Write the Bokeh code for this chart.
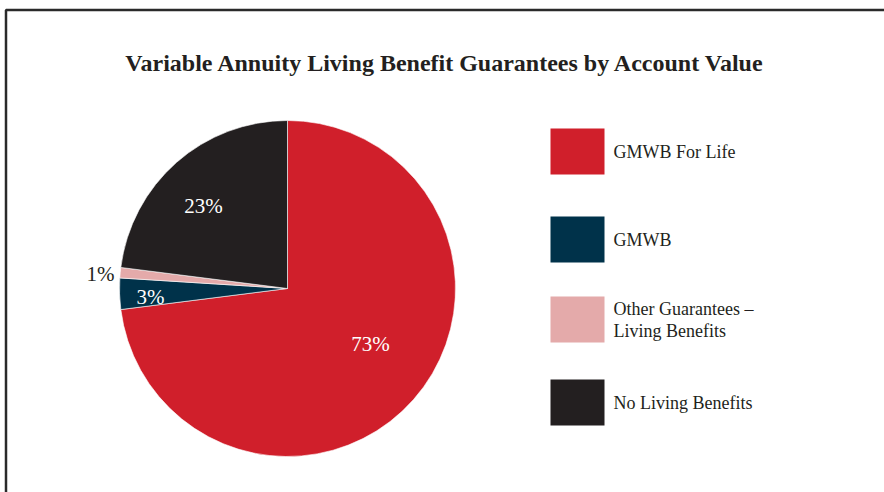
import math
from bokeh.plotting import figure
from bokeh.models import ColumnDataSource, Range1d
from bokeh.core.properties import value
from bokeh.embed import file_html
from bokeh.resources import INLINE

W, H = 884, 492

categories = ["GMWB For Life", "GMWB", "Other Guarantees \u2013\nLiving Benefits", "No Living Benefits"]
shares = [73, 3, 1, 23]
pct_labels = ["73%", "3%", "1%", "23%"]
colors = ["#D01F2B", "#00324A", "#E4AAAA", "#231F20"]
label_colors = ["white", "white", "#231F20", "white"]
title = "Variable Annuity Living Benefit Guarantees by Account Value"

FONT = value("Liberation Serif")

p = figure(width=W, height=H, output_backend="svg", toolbar_location=None,
           x_range=Range1d(0, W), y_range=Range1d(0, H), min_border=0)
p.axis.visible = False
p.grid.visible = False
p.outline_line_color = None
p.background_fill_color = "white"
p.border_fill_color = "white"

# frame (open at right and bottom)
p.line(x=[5.5, 5.5, W + 5], y=[-5, H - 9.5, H - 9.5], line_color="#2a2a2a", line_width=2.5)

# title
p.text(x=[445], y=[H - 62], text=[title], text_font=FONT, text_font_style="bold",
       text_font_size="24px", text_align="center", text_baseline="middle", text_color="#231F20")

# pie
cx, cy, r = 287, H - 288, 168
total = sum(shares)
starts, ends = [], []
acc = 0.0
for s in shares:
    a0 = math.pi / 2 - 2 * math.pi * acc / total
    acc += s
    a1 = math.pi / 2 - 2 * math.pi * acc / total
    starts.append(a1)
    ends.append(a0)
src = ColumnDataSource(dict(start=starts, end=ends, color=colors))
p.wedge(x=cx, y=cy, radius=r, start_angle="start", end_angle="end",
        fill_color="color", line_color="white", line_width=0.6, source=src)

# percent labels
lx = [370, 150, 100, 203]
ly = [H - 343, H - 296, H - 273, H - 205]
p.text(x=lx, y=ly, text=pct_labels, text_color=label_colors, text_font=FONT,
       text_font_size="21px", text_align="center", text_baseline="middle")

# legend
sq_top = [128, 216, 296, 379]
sq_x0, sq_x1 = 550, 604
sq_h = 46
p.quad(left=sq_x0, right=sq_x1, top=[H - t for t in sq_top], bottom=[H - t - sq_h for t in sq_top],
       fill_color=colors, line_color=None)
text_y = [H - (t + sq_h / 2) for t in sq_top]
p.text(x=[613] * 4, y=text_y, text=categories, text_font=FONT, text_font_size="18px",
       text_align="left", text_baseline="middle", text_color="#231F20", text_line_height=1.1)

open("out.html", "w").write(file_html(p, INLINE))
